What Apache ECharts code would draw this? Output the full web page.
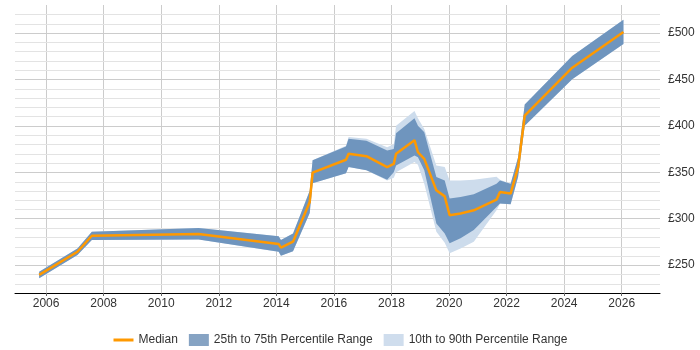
<!DOCTYPE html>
<html>
<head>
<meta charset="utf-8">
<script src="https://cdn.jsdelivr.net/npm/echarts@6.0.0/dist/echarts.min.js"></script>
<style>
  html, body { margin: 0; padding: 0; background: #fff; }
  #chart { width: 700px; height: 350px; }
</style>
</head>
<body>
<div id="chart"></div>
<script>
// years (decimal) of each sample
var years = [2005.76, 2007.09, 2007.59, 2011.30, 2014.08, 2014.16, 2014.58, 2015.16, 2015.26, 2016.42,
  2016.51, 2017.13, 2017.85, 2018.08, 2018.16, 2018.80, 2018.92, 2019.14, 2019.56, 2019.85,
  2020.02, 2020.40, 2020.86, 2021.65, 2021.77, 2022.14, 2022.40, 2022.63, 2024.28, 2026.06]

var p10 = [236, 261, 277, 277.7, 264.4, 260, 265, 306, 338, 349,
  355.5, 352, 341, 344, 350, 361, 358, 337.7, 285.9, 274,
  262.8, 268, 275.2, 309, 316, 315.5, 345, 400, 450, 488]
var p25 = [236, 261, 277, 277.7, 264.4, 260, 265, 306, 338, 349,
  355.5, 352, 342, 350, 357.3, 368, 366, 352, 294.8, 284,
  273.5, 278.8, 287.7, 312.7, 316.3, 315.5, 345, 400, 450, 488]
var median = [239.5, 264.4, 281.6, 283.4, 272.7, 268.8, 275.2, 318, 349.5, 363.4,
  370, 367.3, 355.5, 359, 369.8, 384.5, 371.5, 364.4, 330.5, 324,
  303.7, 305.6, 309, 320.5, 328.7, 327, 355.5, 410.8, 462.5, 501]
var p75 = [243, 268, 286, 290, 281, 277, 284, 330, 363, 377.6,
  386, 384, 373.3, 375, 392, 408, 400, 393, 344.8, 341.2,
  321.7, 323.3, 326.3, 337.6, 341, 337.6, 366, 423, 475, 514]
var p90 = [243, 268, 286, 290, 281, 277, 284, 330, 363, 378.5,
  388, 386, 377, 380, 400, 416, 408, 396.6, 357.3, 355.5,
  341.2, 341.2, 342, 345, 342, 337.6, 366, 423, 475, 514]

// light £10 grid lines between the labelled £50 ones
var minorLines = [230, 240, 260, 270, 280, 290, 310, 320, 330, 340, 360, 370, 380, 390,
  410, 420, 430, 440, 460, 470, 480, 490, 510, 520]

var chart = echarts.init(document.getElementById('chart'))

// draws the area between lo and hi as one polygon
function band(lo, hi, color) {
  return function(params, api) {
    if (params.dataIndex !== 0) return
    var top = years.map(function(x, i) { return api.coord([x, hi[i]]) })
    var bottom = years.map(function(x, i) { return api.coord([x, lo[i]]) }).reverse()
    return {
      type: 'polygon',
      shape: { points: top.concat(bottom) },
      style: { fill: color }
    }
  }
}

// one horizontal line across the plot per value
function minorLine(params, api) {
  var cs = params.coordSys
  var y = Math.round(api.coord([api.value(0), api.value(1)])[1]) + 0.5
  return {
    type: 'line',
    shape: { x1: cs.x, y1: y, x2: cs.x + cs.width, y2: y },
    style: { stroke: '#e3e3e3', lineWidth: 1 }
  }
}

var font = 'Liberation Sans, Arial, sans-serif'
var major = '#cccccc'

chart.setOption({
  animation: false,
  grid: { left: 15, right: 40, top: 5, bottom: 57 },
  legend: {
    left: 107,
    top: 329,
    itemWidth: 20,
    itemHeight: 12,
    itemGap: 11,
    textStyle: { fontSize: 12, color: '#333', fontFamily: font },
    data: [
      { name: 'Median', itemStyle: { opacity: 0 }, lineStyle: { width: 3 }},
      { name: '25th to 75th Percentile Range', icon: 'rect', itemStyle: { color: '#86a3c3' }},
      { name: '10th to 90th Percentile Range', icon: 'rect', itemStyle: { color: '#cfdded' }}
    ]
  },
  xAxis: {
    type: 'value',
    min: 2004.92,
    max: 2027.33,
    splitNumber: 11,
    axisLine: { lineStyle: { color: '#000', width: 1 }},
    axisTick: { show: true, length: 3, lineStyle: { color: '#666' }},
    axisLabel: {
      margin: 5, fontSize: 12, color: '#333', fontFamily: font,
      showMinLabel: false, showMaxLabel: false,
      formatter: function(v) { return String(v) }
    },
    splitLine: { show: true, showMinLine: false, showMaxLine: false, lineStyle: { color: major }}
  },
  yAxis: {
    type: 'value',
    position: 'right',
    min: 220,
    max: 530,
    splitNumber: 6,
    axisLine: { show: false },
    axisTick: { show: false },
    axisLabel: {
      margin: 8, fontSize: 12, color: '#333', fontFamily: font,
      showMinLabel: false, showMaxLabel: false,
      formatter: '£{value}'
    },
    splitLine: { showMinLine: false, showMaxLine: false, lineStyle: { color: major }}
  },
  series: [
    {
      name: 'grid10',
      type: 'custom',
      z: 0,
      silent: true,
      encode: { x: 0, y: 1 },
      data: minorLines.map(function(v) { return [years[0], v] }),
      renderItem: minorLine
    },
    {
      name: '10th to 90th Percentile Range',
      type: 'custom',
      z: 1,
      silent: true,
      itemStyle: { color: '#cfdded' },
      encode: { x: 0, y: [1, 2] },
      data: years.map(function(x, i) { return [x, p10[i], p90[i]] }),
      renderItem: band(p10, p90, '#cddcec')
    },
    {
      name: '25th to 75th Percentile Range',
      type: 'custom',
      z: 2,
      silent: true,
      itemStyle: { color: '#86a3c3' },
      encode: { x: 0, y: [1, 2] },
      data: years.map(function(x, i) { return [x, p25[i], p75[i]] }),
      renderItem: band(p25, p75, '#6f95be')
    },
    {
      name: 'Median',
      type: 'line',
      z: 3,
      symbol: 'none',
      lineStyle: { color: '#ff9900', width: 2.5 },
      itemStyle: { color: '#ff9900' },
      data: years.map(function(x, i) { return [x, median[i]] })
    }
  ]
})
</script>
</body>
</html>
